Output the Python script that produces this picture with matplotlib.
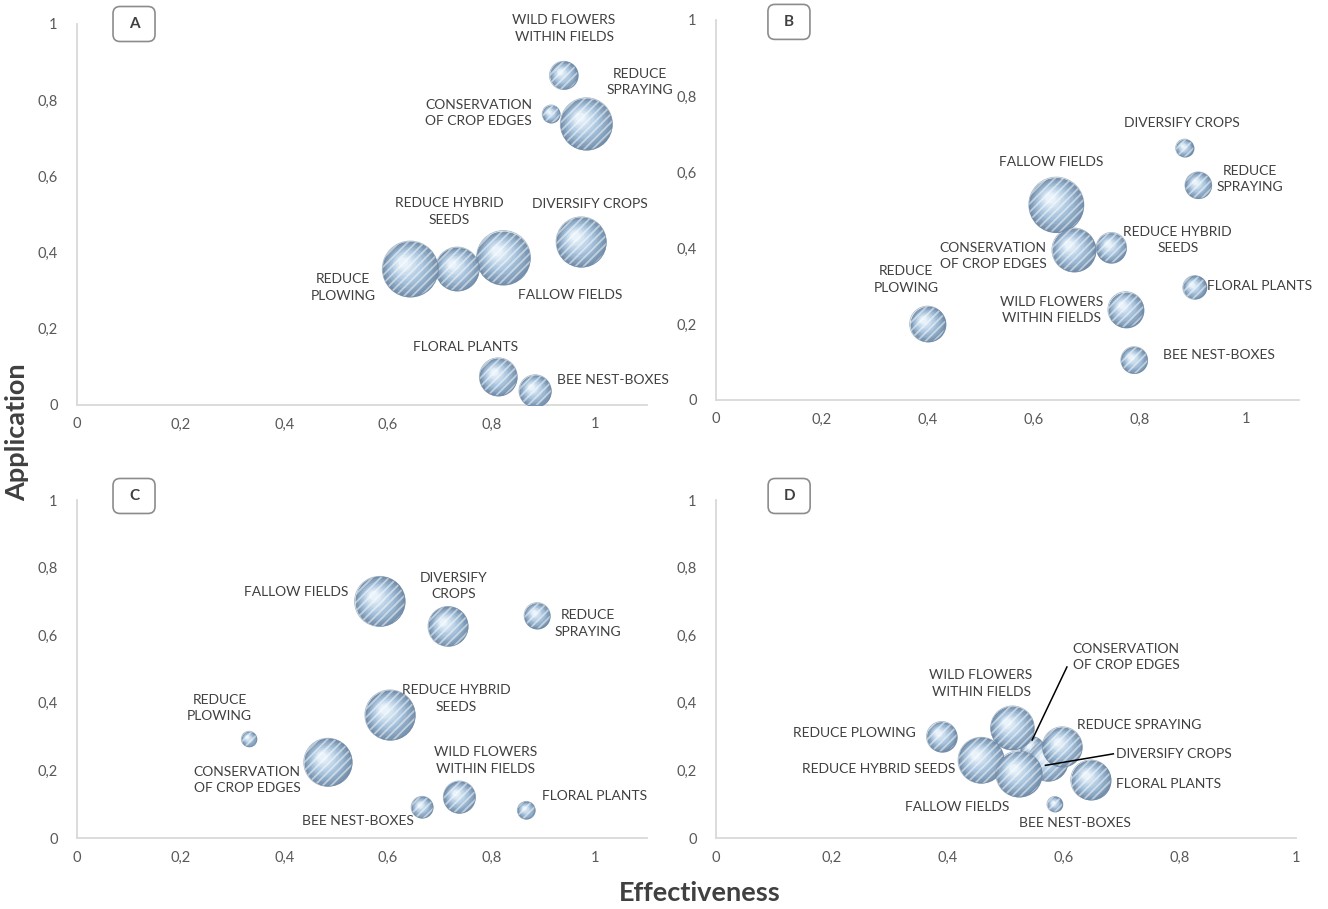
import numpy as np
import matplotlib
matplotlib.use("Agg")
import matplotlib.pyplot as plt
from matplotlib.patches import FancyBboxPatch
from matplotlib.transforms import ScaledTranslation

plt.rcParams['font.family'] = ['Lato', 'DejaVu Sans']
plt.rcParams['hatch.linewidth'] = 1.3

# -----------------------------------------------------
# Data: effectiveness (x), application (y), bubble weight
# -----------------------------------------------------
labels_a = ["WILD FLOWERS\nWITHIN FIELDS", "CONSERVATION\nOF CROP EDGES", "REDUCE\nSPRAYING",
            "DIVERSIFY CROPS", "FALLOW FIELDS", "REDUCE HYBRID\nSEEDS", "REDUCE\nPLOWING",
            "FLORAL PLANTS", "BEE NEST-BOXES"]
eff_a = [0.939, 0.915, 0.983, 0.973, 0.823, 0.734, 0.643, 0.813, 0.884]
app_a = [0.865, 0.764, 0.738, 0.428, 0.387, 0.357, 0.357, 0.074, 0.037]
weight_a = [2.0, 0.8, 6.8, 6.3, 7.3, 4.8, 7.8, 3.6, 2.6]

labels_b = ["DIVERSIFY CROPS", "REDUCE\nSPRAYING", "FALLOW FIELDS", "CONSERVATION\nOF CROP EDGES",
            "REDUCE HYBRID\nSEEDS", "FLORAL PLANTS", "WILD FLOWERS\nWITHIN FIELDS",
            "REDUCE\nPLOWING", "BEE NEST-BOXES"]
eff_b = [0.884, 0.910, 0.642, 0.675, 0.746, 0.903, 0.773, 0.399, 0.789]
app_b = [0.663, 0.565, 0.514, 0.395, 0.401, 0.296, 0.238, 0.200, 0.105]
weight_b = [0.8, 1.8, 7.6, 4.8, 2.3, 1.4, 3.2, 3.2, 1.8]

labels_c = ["FALLOW FIELDS", "DIVERSIFY\nCROPS", "REDUCE\nSPRAYING", "REDUCE HYBRID\nSEEDS",
            "REDUCE\nPLOWING", "CONSERVATION\nOF CROP EDGES", "WILD FLOWERS\nWITHIN FIELDS",
            "BEE NEST-BOXES", "FLORAL PLANTS"]
eff_c = [0.584, 0.716, 0.888, 0.604, 0.332, 0.484, 0.738, 0.666, 0.867]
app_c = [0.700, 0.626, 0.658, 0.364, 0.293, 0.224, 0.121, 0.091, 0.082]
weight_c = [6.3, 4.0, 1.7, 6.3, 0.6, 5.8, 2.6, 1.2, 0.8]

labels_d = ["CONSERVATION\nOF CROP EDGES", "WILD FLOWERS\nWITHIN FIELDS", "DIVERSIFY CROPS",
            "REDUCE SPRAYING", "REDUCE HYBRID SEEDS", "FALLOW FIELDS", "FLORAL PLANTS",
            "REDUCE PLOWING", "BEE NEST-BOXES"]
eff_d = [0.545, 0.511, 0.572, 0.597, 0.457, 0.522, 0.646, 0.389, 0.584]
app_d = [0.265, 0.326, 0.227, 0.270, 0.230, 0.190, 0.172, 0.300, 0.100]
weight_d = [1.4, 4.8, 4.0, 4.0, 5.3, 5.3, 4.0, 2.3, 0.6]

ticks = [0, 0.2, 0.4, 0.6, 0.8, 1]
tick_labels = ["0", "0,2", "0,4", "0,6", "0,8", "1"]

# -----------------------------------------------------
# Layout: label anchors (data coords) and alignment
# -----------------------------------------------------
pos_a = [(0.940, 0.988), (0.775, 0.766), (1.087, 0.848), (0.990, 0.528), (0.952, 0.289),
         (0.718, 0.508), (0.513, 0.308), (0.749, 0.151), (1.034, 0.066)]
pos_b = [(0.879, 0.728), (1.008, 0.582), (0.633, 0.625), (0.523, 0.379), (0.871, 0.421),
         (1.026, 0.299), (0.633, 0.237), (0.358, 0.317), (0.948, 0.118)]
pos_c = [(0.422, 0.729), (0.727, 0.745), (0.986, 0.634), (0.732, 0.413), (0.275, 0.385),
         (0.328, 0.172), (0.789, 0.229), (0.543, 0.049), (0.998, 0.125)]
pos_d = [(0.615, 0.536), (0.457, 0.457), (0.69, 0.249), (0.729, 0.335), (0.280, 0.205),
         (0.415, 0.092), (0.69, 0.160), (0.238, 0.312), (0.618, 0.044)]
ha_d = ["left", "center", "left", "center", "center", "center", "left", "center", "center"]

RADIUS_PT = 7.2           # bubble radius in points for weight 1 (area ~ weight)
EDGE = np.array([0.45, 0.56, 0.67])
MID = np.array([0.66, 0.77, 0.87])
CORE = np.array([0.91, 0.95, 0.98])
TEXT = "#404040"
TICK = "#595959"
AXIS = "#d9d9d9"

fig = plt.figure(figsize=(13.28, 9.09), dpi=100)


def shade(t):
    if t < 0.5:
        return EDGE + (MID - EDGE) * (t / 0.5)
    return MID + (CORE - MID) * ((t - 0.5) / 0.5)


def bubbles(ax, xs, ys, ws, z0=3):
    n = 14
    for i, (x, y, w) in enumerate(zip(xs, ys, ws)):
        r = RADIUS_PT * np.sqrt(w)
        z = z0 + i * 0.01
        for k in range(n):
            t = k / (n - 1)
            f = 1 - 0.82 * t
            d = (1 - f) * r * 0.30
            tr = ax.transData + ScaledTranslation(-d / 72, d / 72, fig.dpi_scale_trans)
            ax.scatter([x], [y], s=(2 * r * f) ** 2, color=shade(t), linewidths=0,
                       transform=tr, zorder=z)
        ax.scatter([x], [y], s=(2 * r) ** 2, facecolors="none", edgecolors=(1, 1, 1, 0.5),
                   linewidths=0, hatch="////", zorder=z)
        ax.scatter([x], [y], s=(2 * r) ** 2, facecolors="none", edgecolors=(0.45, 0.55, 0.65, 0.6),
                   linewidths=0.6, zorder=z)


def style(ax, xmax, letter, letter_xy):
    ax.set_xlim(0, xmax)
    ax.set_ylim(0, 1)
    ax.set_xticks(ticks)
    ax.set_xticklabels(tick_labels)
    ax.set_yticks(ticks)
    ax.set_yticklabels(tick_labels)
    ax.tick_params(length=0, labelsize=10.5, labelcolor=TICK)
    ax.tick_params(axis="x", pad=9)
    ax.tick_params(axis="y", pad=14)
    for s in ["top", "right"]:
        ax.spines[s].set_visible(False)
    for s in ["left", "bottom"]:
        ax.spines[s].set_color(AXIS)
        ax.spines[s].set_linewidth(1.3)
    ax.patch.set_alpha(0)
    # rounded panel tag
    bb = ax.get_position()
    wpx, hpx = bb.width * fig.get_figwidth() * fig.dpi, bb.height * fig.get_figheight() * fig.dpi
    bw, bh = 42 / wpx, 35 / hpx
    cx, cy = letter_xy
    box = FancyBboxPatch((cx - bw / 2, cy - bh / 2), bw, bh,
                         boxstyle="round,pad=0,rounding_size=%f" % (7 / wpx),
                         mutation_aspect=wpx / hpx, transform=ax.transAxes,
                         fc="white", ec="#8c8c8c", lw=1.2, clip_on=False, zorder=10)
    ax.add_patch(box)
    ax.text(cx, cy, letter, transform=ax.transAxes, ha="center", va="center",
            fontsize=11, fontweight="bold", color=TEXT, zorder=11)


def put_labels(ax, labels, pos, ha=None):
    for i, (lab, (x, y)) in enumerate(zip(labels, pos)):
        a = ha[i] if ha else "center"
        ax.text(x, y, lab, ha=a, va="center", multialignment=a, fontsize=10,
                color=TEXT, linespacing=1.45, zorder=20, clip_on=False)


ax_a = fig.add_axes([0.058, 0.5545, 0.4292, 0.4191])
ax_b = fig.add_axes([0.5392, 0.5600, 0.4390, 0.4180])
ax_c = fig.add_axes([0.058, 0.0781, 0.4292, 0.3718])
ax_d = fig.add_axes([0.5392, 0.0781, 0.4367, 0.3718])

style(ax_a, 1.1, "A", (0.100, 1.000))
style(ax_b, 1.1, "B", (0.125, 0.995))
style(ax_c, 1.1, "C", (0.100, 1.012))
style(ax_d, 1.0, "D", (0.126, 1.012))

bubbles(ax_a, eff_a, app_a, weight_a)
bubbles(ax_b, eff_b, app_b, weight_b)
bubbles(ax_c, eff_c, app_c, weight_c)
bubbles(ax_d, eff_d, app_d, weight_d)

put_labels(ax_a, labels_a, pos_a)
put_labels(ax_b, labels_b, pos_b)
put_labels(ax_c, labels_c, pos_c)
put_labels(ax_d, labels_d, pos_d, ha_d)

# leader lines for the crowded cluster in panel D
ax_d.plot([pos_d[0][0] - 0.01, eff_d[0]], [pos_d[0][1] - 0.03, app_d[0] + 0.025],
          color="black", lw=1.1, zorder=15)
ax_d.plot([pos_d[2][0] - 0.005, eff_d[2] - 0.004], [pos_d[2][1], app_d[2] - 0.012],
          color="black", lw=1.1, zorder=15)

fig.text(0.013, 0.525, "Application", rotation=90, ha="center", va="center",
         fontsize=19.5, fontweight="bold", color=TEXT)
fig.text(0.527, 0.018, "Effectiveness", ha="center", va="center",
         fontsize=19.5, fontweight="bold", color=TEXT)

fig.savefig("out.png", dpi=100)
